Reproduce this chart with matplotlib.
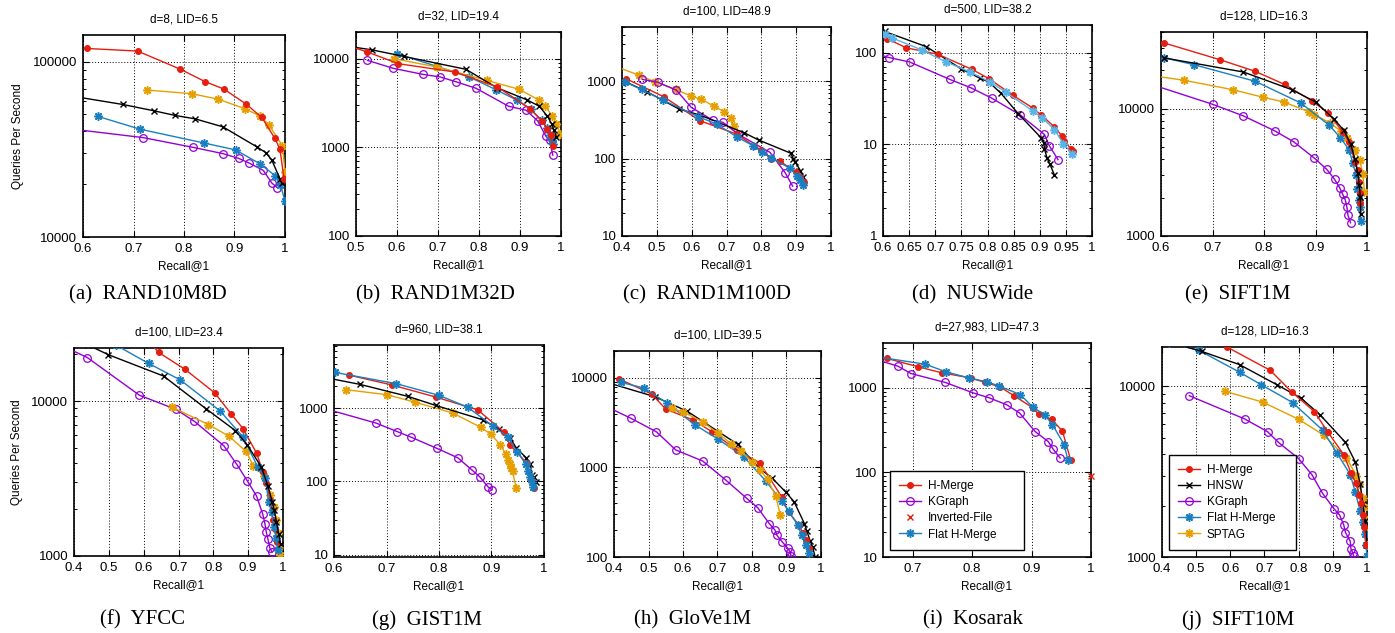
import matplotlib
matplotlib.use("Agg")
import matplotlib.pyplot as plt
from matplotlib.ticker import FixedLocator, FuncFormatter, NullFormatter
import numpy as np

# ---------------- data ----------------
# (a) RAND10M8D
a_hm_x = [0.607, 0.708, 0.792, 0.842, 0.879, 0.923, 0.954, 0.980, 0.990, 0.998]
a_hm_y = [119000, 115000, 90800, 76900, 69800, 57300, 48100, 36500, 31700, 21500]
a_hnsw_x = [0.58, 0.679, 0.740, 0.782, 0.822, 0.877, 0.944, 0.962, 0.974, 0.990, 0.995]
a_hnsw_y = [63500, 57000, 52500, 49400, 47200, 42500, 32700, 30300, 27400, 21500, 20200]
a_kg_x = [0.58, 0.719, 0.817, 0.877, 0.908, 0.928, 0.957, 0.974, 0.985]
a_kg_y = [41200, 36900, 32500, 29900, 28100, 26500, 24000, 20300, 19100]
a_flat_x = [0.630, 0.713, 0.839, 0.902, 0.951, 0.980, 0.991, 1.0]
a_flat_y = [48700, 41200, 34400, 31400, 26100, 22400, 19900, 16000]
a_sptag_x = [0.727, 0.815, 0.867, 0.921, 0.951, 0.969, 0.995, 1.0]
a_sptag_y = [68900, 65700, 61200, 53900, 48900, 43300, 33100, 23500]

# (b) RAND1M32D
b_hm_x = [0.48, 0.528, 0.603, 0.741, 0.845, 0.924, 0.954, 0.967, 0.975, 0.980]
b_hm_y = [14000, 11900, 8780, 7080, 4800, 2740, 1970, 1630, 1390, 1030]
b_hnsw_x = [0.48, 0.538, 0.617, 0.768, 0.843, 0.916, 0.947, 0.967, 0.977, 0.983, 0.989]
b_hnsw_y = [13800, 12600, 10600, 7590, 4720, 3450, 2910, 2240, 1850, 1560, 1310]
b_kg_x = [0.528, 0.591, 0.663, 0.705, 0.743, 0.793, 0.872, 0.915, 0.943, 0.963, 0.972, 0.980]
b_kg_y = [9570, 7780, 6660, 6220, 5510, 4630, 2910, 2620, 1990, 1340, 1200, 817]
b_flat_x = [0.599, 0.697, 0.776, 0.841, 0.893, 0.926, 0.953, 0.965, 0.972, 0.977, 0.980]
b_flat_y = [11400, 8200, 6220, 4480, 3400, 2690, 2020, 1670, 1370, 1200, 1090]
b_sptag_x = [0.593, 0.697, 0.819, 0.898, 0.947, 0.962, 0.979, 0.989, 0.998]
b_sptag_y = [10000, 8060, 5700, 4510, 3400, 2910, 2240, 1820, 1430]

# (c) RAND1M100D
c_hm_x = [0.412, 0.520, 0.624, 0.729, 0.779, 0.800, 0.827, 0.854, 0.899, 0.912, 0.923]
c_hm_y = [1072, 628, 308, 207, 146, 129, 98.6, 92, 67.6, 58, 50]
c_hnsw_x = [0.38, 0.472, 0.564, 0.624, 0.751, 0.793, 0.885, 0.892, 0.897, 0.912, 0.921]
c_hnsw_y = [1135, 728, 435, 364, 215, 173, 117, 98.6, 91, 70, 58]
c_kg_x = [0.458, 0.502, 0.556, 0.599, 0.660, 0.690, 0.733, 0.825, 0.868, 0.890]
c_kg_y = [1052, 970, 765, 457, 314, 293, 207, 120, 66, 44]
c_flat_x = [0.410, 0.456, 0.518, 0.619, 0.672, 0.729, 0.777, 0.801, 0.828, 0.883, 0.902, 0.912, 0.921]
c_flat_y = [970, 780, 568, 347, 279, 191, 146, 122, 102, 74.6, 60, 52.8, 45.5]
c_sptag_x = [0.38, 0.448, 0.494, 0.554, 0.597, 0.628, 0.664, 0.694, 0.713, 0.722]
c_sptag_y = [1560, 1195, 980, 780, 647, 580, 475, 402, 330, 262]

# (d) NUSWide
d_hm_x = [0.608, 0.644, 0.705, 0.770, 0.803, 0.848, 0.887, 0.903, 0.928, 0.942, 0.947, 0.959, 0.964]
d_hm_y = [142, 113, 95.9, 65.7, 51.9, 34.4, 24.8, 20.8, 15.5, 12.4, 11.0, 8.97, 8.38]
d_hnsw_x = [0.603, 0.683, 0.749, 0.786, 0.802, 0.826, 0.859, 0.903, 0.908, 0.909, 0.914, 0.919, 0.928]
d_hnsw_y = [170, 116, 66.8, 52.4, 48.1, 35.9, 21.5, 11.7, 10.3, 8.9, 7.1, 6.14, 4.65]
d_kg_x = [0.59, 0.612, 0.651, 0.728, 0.768, 0.808, 0.863, 0.909, 0.918, 0.935]
d_kg_y = [96, 88.2, 79, 51, 41.4, 31.9, 20.8, 12.8, 9.7, 6.8]
d_flat_x = [0.603, 0.618, 0.674, 0.721, 0.767, 0.805, 0.835, 0.887, 0.905, 0.928, 0.945, 0.962]
d_flat_y = [159, 144, 107, 79, 61.4, 47.7, 37.1, 23.0, 19.4, 14.5, 10.2, 7.9]

# (e) SIFT1M
e_hm_x = [0.605, 0.715, 0.782, 0.840, 0.893, 0.924, 0.953, 0.965, 0.977, 0.982, 0.985, 0.986, 0.987]
e_hm_y = [32900, 24200, 19700, 15500, 11500, 9300, 6560, 5480, 3820, 3290, 2660, 2160, 1820]
e_hnsw_x = [0.605, 0.760, 0.854, 0.900, 0.935, 0.955, 0.968, 0.977, 0.982, 0.985, 0.987, 0.988]
e_hnsw_y = [25100, 19400, 14100, 11300, 8350, 6770, 5320, 3990, 3100, 2510, 2030, 1490]
e_kg_x = [0.59, 0.701, 0.760, 0.821, 0.858, 0.898, 0.922, 0.937, 0.947, 0.953, 0.958, 0.961, 0.963, 0.968]
e_kg_y = [15100, 10800, 8770, 6690, 5480, 4080, 3330, 2790, 2390, 2120, 1910, 1680, 1460, 1270]
e_flat_x = [0.606, 0.665, 0.783, 0.871, 0.927, 0.948, 0.966, 0.972, 0.979, 0.981, 0.984, 0.986, 0.988]
e_flat_y = [25100, 22100, 16400, 11100, 7400, 5930, 4720, 3750, 3040, 2320, 1910, 1700, 1300]
e_sptag_x = [0.59, 0.645, 0.739, 0.798, 0.838, 0.888, 0.898, 0.928, 0.950, 0.961, 0.976, 0.986, 0.992, 0.995]
e_sptag_y = [18000, 16700, 14100, 12300, 11300, 9420, 8980, 7720, 6640, 5890, 4720, 3940, 3060, 2220]

# (f) YFCC
f_hm_x = [0.62, 0.643, 0.719, 0.804, 0.851, 0.885, 0.924, 0.942, 0.952, 0.964, 0.971, 0.978, 0.983]
f_hm_y = [23500, 20600, 16000, 11300, 8270, 6650, 4620, 3510, 2950, 2300, 1720, 1500, 1230]
f_hnsw_x = [0.44, 0.499, 0.657, 0.779, 0.863, 0.897, 0.937, 0.957, 0.969, 0.975, 0.981, 0.988, 0.993]
f_hnsw_y = [23000, 19900, 14500, 8920, 6450, 5230, 3780, 2830, 2240, 1980, 1660, 1380, 1200]
f_kg_x = [0.38, 0.438, 0.588, 0.693, 0.745, 0.830, 0.866, 0.897, 0.924, 0.942, 0.948, 0.952, 0.957, 0.962, 0.969]
f_kg_y = [22000, 19100, 10900, 8830, 7410, 5150, 3940, 3070, 2440, 1860, 1620, 1430, 1280, 1130, 1060]
f_flat_x = [0.52, 0.614, 0.705, 0.820, 0.885, 0.927, 0.949, 0.959, 0.967, 0.975, 0.981, 0.985]
f_flat_y = [23000, 17500, 13700, 8610, 5870, 3780, 3180, 2240, 1910, 1540, 1300, 1090]
f_sptag_x = [0.681, 0.786, 0.845, 0.894, 0.915, 0.946, 0.963, 0.973, 0.981, 0.986, 0.989, 0.991]
f_sptag_y = [9140, 7050, 5930, 4730, 3820, 3260, 2480, 2080, 1710, 1410, 1140, 1010]

# (g) GIST1M
g_hm_x = [0.629, 0.710, 0.794, 0.874, 0.923, 0.936, 0.967, 0.975, 0.980]
g_hm_y = [2830, 2080, 1420, 948, 475, 311, 179, 105, 81]
g_hnsw_x = [0.58, 0.649, 0.741, 0.794, 0.883, 0.914, 0.935, 0.947, 0.966, 0.974, 0.977, 0.980, 0.984]
g_hnsw_y = [2650, 2120, 1450, 1090, 697, 518, 397, 289, 210, 174, 124, 114, 97]
g_kg_x = [0.58, 0.680, 0.720, 0.746, 0.796, 0.836, 0.862, 0.878, 0.893, 0.901]
g_kg_y = [1000, 627, 481, 405, 283, 210, 145, 115, 85, 76.7]
g_flat_x = [0.602, 0.718, 0.800, 0.855, 0.902, 0.931, 0.949, 0.965, 0.970, 0.974, 0.977, 0.979]
g_flat_y = [3080, 2170, 1500, 1030, 576, 405, 254, 174, 140, 115, 98, 85]
g_sptag_x = [0.623, 0.701, 0.754, 0.826, 0.880, 0.899, 0.917, 0.927, 0.931, 0.935, 0.938, 0.940, 0.947]
g_sptag_y = [1790, 1530, 1210, 862, 546, 442, 315, 239, 199, 174, 153, 137, 81]

# (h) GloVe1M
h_hm_x = [0.415, 0.509, 0.550, 0.628, 0.683, 0.756, 0.822, 0.886, 0.906, 0.935, 0.947, 0.957, 0.966]
h_hm_y = [9750, 6620, 4490, 3410, 2520, 1560, 1130, 471, 317, 230, 186, 156, 126]
h_hnsw_x = [0.38, 0.518, 0.613, 0.758, 0.819, 0.859, 0.898, 0.922, 0.952, 0.959, 0.969, 0.976, 0.983]
h_hnsw_y = [8900, 6180, 4230, 1820, 995, 756, 531, 414, 236, 194, 150, 128, 100]
h_kg_x = [0.38, 0.450, 0.523, 0.579, 0.657, 0.724, 0.785, 0.817, 0.850, 0.867, 0.872, 0.888, 0.903, 0.911, 0.913]
h_kg_y = [4750, 3530, 2500, 1570, 1180, 724, 451, 354, 236, 199, 175, 147, 126, 114, 102]
h_flat_x = [0.419, 0.486, 0.554, 0.634, 0.702, 0.777, 0.840, 0.886, 0.906, 0.932, 0.944, 0.956, 0.964]
h_flat_y = [8940, 7730, 5240, 3000, 2070, 1310, 706, 421, 325, 230, 175, 137, 111]
h_sptag_x = [0.567, 0.599, 0.657, 0.702, 0.739, 0.767, 0.799, 0.823, 0.845, 0.869, 0.882]
h_sptag_y = [4570, 4190, 3240, 2400, 1850, 1530, 1160, 938, 736, 479, 293]

# (i) Kosarak
i_hm_x = [0.657, 0.709, 0.749, 0.798, 0.822, 0.847, 0.870, 0.902, 0.912, 0.934, 0.952, 0.966]
i_hm_y = [2230, 1780, 1510, 1310, 1160, 1030, 811, 583, 486, 424, 308, 139]
i_kg_x = [0.64, 0.675, 0.697, 0.755, 0.802, 0.828, 0.858, 0.880, 0.906, 0.928, 0.936, 0.948]
i_kg_y = [2150, 1810, 1480, 1160, 872, 767, 633, 504, 305, 232, 190, 148]
i_flat_x = [0.64, 0.721, 0.756, 0.795, 0.825, 0.846, 0.881, 0.902, 0.922, 0.935, 0.955, 0.961]
i_flat_y = [2330, 1910, 1550, 1310, 1180, 1050, 833, 594, 481, 369, 213, 140]
i_ivf_x = [1.0]
i_ivf_y = [89.6]

# (j) SIFT10M
j_hm_x = [0.590, 0.717, 0.780, 0.846, 0.886, 0.932, 0.953, 0.968, 0.978, 0.982, 0.987, 0.992, 0.997]
j_hm_y = [17000, 12400, 9260, 7110, 5370, 3980, 3110, 2700, 2320, 2060, 1760, 1500, 1180]
j_hnsw_x = [0.42, 0.517, 0.627, 0.737, 0.807, 0.863, 0.937, 0.966, 0.980, 0.988, 0.995, 1.0]
j_hnsw_y = [18200, 16000, 13400, 10200, 8530, 6800, 4690, 3600, 2680, 2040, 1630, 1180]
j_kg_x = [0.480, 0.642, 0.709, 0.741, 0.800, 0.839, 0.870, 0.904, 0.920, 0.932, 0.937, 0.951, 0.953, 0.958, 0.961]
j_kg_y = [8810, 6440, 5420, 4690, 3770, 3030, 2360, 1910, 1760, 1540, 1390, 1240, 1120, 1060, 1010]
j_flat_x = [0.42, 0.507, 0.627, 0.691, 0.782, 0.870, 0.912, 0.951, 0.966, 0.980, 0.987, 0.993, 0.997, 1.0]
j_flat_y = [18000, 16300, 12100, 10200, 8040, 5540, 4070, 3040, 2390, 1860, 1610, 1370, 1180, 1010]
j_sptag_x = [0.585, 0.695, 0.800, 0.873, 0.940, 0.969, 0.978, 0.987, 0.992, 0.995, 0.998, 1.0]
j_sptag_y = [9340, 8080, 6410, 5180, 3800, 3000, 2680, 2230, 1950, 1660, 1420, 1180]

titles = ["d=8, LID=6.5", "d=32, LID=19.4", "d=100, LID=48.9", "d=500, LID=38.2",
          "d=128, LID=16.3", "d=100, LID=23.4", "d=960, LID=38.1", "d=100, LID=39.5",
          "d=27,983, LID=47.3", "d=128, LID=16.3"]
captions = ["(a)  RAND10M8D", "(b)  RAND1M32D", "(c)  RAND1M100D", "(d)  NUSWide",
            "(e)  SIFT1M", "(f)  YFCC", "(g)  GIST1M", "(h)  GloVe1M",
            "(i)  Kosarak", "(j)  SIFT10M"]

# ---------------- styles ----------------
RED = "#e51e10"
PURPLE = "#9400d3"
BLUE = "#1a7fc0"
SKY = "#56b4e9"
ORANGE = "#e69f00"
STAR = (8, 2, 0)

styles = {
    "H-Merge": dict(color=RED, marker="o", ms=4.2, mfc=RED, mec=RED, mew=0.8),
    "HNSW": dict(color="black", marker="x", ms=5, mew=1.0),
    "KGraph": dict(color=PURPLE, marker="o", ms=5.5, mfc="none", mec=PURPLE, mew=0.9),
    "Flat H-Merge": dict(color=BLUE, marker=STAR, ms=6, mew=1.1),
    "SPTAG": dict(color=ORANGE, marker=STAR, ms=6, mew=1.1),
    "Inverted-File": dict(color=RED, marker="x", ms=5, mew=1.0, ls="none"),
}

W, H = 1395, 633
fig = plt.figure(figsize=(W / 100, H / 100), dpi=100)

# axes boxes in pixels: left, top, right, bottom
boxes = [(83, 35, 285, 237), (356, 32, 561, 236), (622, 27, 831, 236),
         (883, 25, 1092, 236), (1161, 32, 1367, 236),
         (74, 348, 283, 556), (334, 345, 544, 557), (614, 351, 821, 557),
         (883, 343, 1091, 557), (1162, 347, 1367, 557)]

xlims = [(0.6, 1), (0.5, 1), (0.4, 1), (0.6, 1), (0.6, 1),
         (0.4, 1), (0.6, 1), (0.4, 1), (0.65, 1), (0.4, 1)]
xticks = [np.arange(0.6, 1.001, 0.1), np.arange(0.5, 1.001, 0.1), np.arange(0.4, 1.001, 0.1),
          np.arange(0.6, 1.001, 0.05), np.arange(0.6, 1.001, 0.1),
          np.arange(0.4, 1.001, 0.1), np.arange(0.6, 1.001, 0.1), np.arange(0.4, 1.001, 0.1),
          np.arange(0.7, 1.001, 0.1), np.arange(0.4, 1.001, 0.1)]
ylims = [(1e4, 1.42e5), (100, 2e4), (10, 5000), (1, 200), (1000, 40000),
         (1000, 22000), (9.3, 7300), (100, 20000), (10, 3400), (1000, 17000)]

panels = [
    [("KGraph", a_kg_x, a_kg_y), ("Flat H-Merge", a_flat_x, a_flat_y), ("SPTAG", a_sptag_x, a_sptag_y),
     ("HNSW", a_hnsw_x, a_hnsw_y), ("H-Merge", a_hm_x, a_hm_y)],
    [("KGraph", b_kg_x, b_kg_y), ("Flat H-Merge", b_flat_x, b_flat_y), ("SPTAG", b_sptag_x, b_sptag_y),
     ("HNSW", b_hnsw_x, b_hnsw_y), ("H-Merge", b_hm_x, b_hm_y)],
    [("SPTAG", c_sptag_x, c_sptag_y), ("KGraph", c_kg_x, c_kg_y), ("HNSW", c_hnsw_x, c_hnsw_y),
     ("H-Merge", c_hm_x, c_hm_y), ("Flat H-Merge", c_flat_x, c_flat_y)],
    [("KGraph", d_kg_x, d_kg_y), ("HNSW", d_hnsw_x, d_hnsw_y), ("H-Merge", d_hm_x, d_hm_y),
     ("Flat H-Merge", d_flat_x, d_flat_y)],
    [("KGraph", e_kg_x, e_kg_y), ("SPTAG", e_sptag_x, e_sptag_y), ("Flat H-Merge", e_flat_x, e_flat_y),
     ("H-Merge", e_hm_x, e_hm_y), ("HNSW", e_hnsw_x, e_hnsw_y)],
    [("KGraph", f_kg_x, f_kg_y), ("SPTAG", f_sptag_x, f_sptag_y), ("H-Merge", f_hm_x, f_hm_y),
     ("Flat H-Merge", f_flat_x, f_flat_y), ("HNSW", f_hnsw_x, f_hnsw_y)],
    [("KGraph", g_kg_x, g_kg_y), ("SPTAG", g_sptag_x, g_sptag_y), ("HNSW", g_hnsw_x, g_hnsw_y),
     ("H-Merge", g_hm_x, g_hm_y), ("Flat H-Merge", g_flat_x, g_flat_y)],
    [("KGraph", h_kg_x, h_kg_y), ("HNSW", h_hnsw_x, h_hnsw_y), ("H-Merge", h_hm_x, h_hm_y),
     ("Flat H-Merge", h_flat_x, h_flat_y), ("SPTAG", h_sptag_x, h_sptag_y)],
    [("H-Merge", i_hm_x, i_hm_y), ("KGraph", i_kg_x, i_kg_y), ("Inverted-File", i_ivf_x, i_ivf_y),
     ("Flat H-Merge", i_flat_x, i_flat_y)],
    [("KGraph", j_kg_x, j_kg_y), ("SPTAG", j_sptag_x, j_sptag_y), ("Flat H-Merge", j_flat_x, j_flat_y),
     ("HNSW", j_hnsw_x, j_hnsw_y), ("H-Merge", j_hm_x, j_hm_y)],
]

legend_orders = {8: ["H-Merge", "KGraph", "Inverted-File", "Flat H-Merge"],
                 9: ["H-Merge", "HNSW", "KGraph", "Flat H-Merge", "SPTAG"]}
legend_widths = {8: 134, 9: 127}

caption_pos = [(148, 295), (435, 295), (707, 295), (973, 295), (1238, 295),
               (143, 620), (427, 620), (693, 620), (973, 620), (1238, 620)]

SANS = ["Liberation Sans", "DejaVu Sans"]
SERIF = ["Liberation Serif", "DejaVu Serif"]

for k in range(10):
    l, t, r, b = boxes[k]
    ax = fig.add_axes([l / W, 1 - b / H, (r - l) / W, (b - t) / H])
    ax.set_yscale("log")
    handles = {}
    for name, xs, ys in panels[k]:
        st = dict(styles[name])
        if k == 3 and name == "Flat H-Merge":
            st["color"] = SKY
        ls = st.pop("ls", "-")
        clip = name != "Inverted-File"
        h, = ax.plot(xs, ys, ls=ls, lw=1.0, clip_on=clip, zorder=3, **st)
        handles[name] = h
    ax.set_xlim(*xlims[k])
    ax.set_ylim(*ylims[k])
    ax.xaxis.set_major_locator(FixedLocator(xticks[k]))
    ax.xaxis.set_major_formatter(FuncFormatter(lambda v, p: f"{round(v, 2):g}"))
    lo, hi = ylims[k]
    decs = [10.0 ** e for e in range(int(np.floor(np.log10(lo))), int(np.ceil(np.log10(hi))) + 1)]
    majors = [d for d in decs if lo * 0.999 <= d <= hi * 1.001]
    minors = [d * m for d in decs for m in range(2, 10) if lo <= d * m <= hi]
    ax.yaxis.set_major_locator(FixedLocator(majors))
    ax.yaxis.set_minor_locator(FixedLocator(minors))
    ax.yaxis.set_major_formatter(FuncFormatter(lambda v, p: f"{int(round(v))}"))
    ax.yaxis.set_minor_formatter(NullFormatter())
    ax.tick_params(which="both", direction="in", top=True, right=True, labelsize=9.5, pad=4,
                   colors="black")
    ax.tick_params(which="major", length=4, width=0.8)
    ax.tick_params(which="minor", length=2.5, width=0.7)
    for lab in ax.get_xticklabels() + ax.get_yticklabels():
        lab.set_family(SANS)
    ax.grid(True, which="major", ls=(0, (1, 2)), color="black", lw=0.7, zorder=1)
    for s in ax.spines.values():
        s.set_linewidth(1.2)
    ax.set_title(titles[k], fontsize=8.5, pad=9, family=SANS)
    ax.set_xlabel("Recall@1", fontsize=8.5, family=SANS, labelpad=4)
    if k in legend_orders:
        order = legend_orders[k]
        aw, ah = r - l, b - t
        leg = ax.legend([handles[n] for n in order], order, loc="lower left",
                        bbox_to_anchor=(7 / aw, 7 / ah, legend_widths[k] / aw, 0.1),
                        mode="expand", borderaxespad=0,
                        fancybox=False, framealpha=1, edgecolor="black",
                        prop={"family": SANS, "size": 8.5}, handlelength=1.8,
                        labelspacing=0.35, handletextpad=0.6, borderpad=0.8)
        leg.get_frame().set_linewidth(1.0)
        leg.set_zorder(5)
    cx, cy = caption_pos[k]
    fig.text(cx / W, 1 - cy / H, captions[k], ha="center", va="center",
             fontsize=15, family=SERIF)

fig.text(18 / W, 1 - 136 / H, "Queries Per Second", rotation=90, ha="center", va="center",
         fontsize=8.5, family=SANS)
fig.text(17 / W, 1 - 452 / H, "Queries Per Second", rotation=90, ha="center", va="center",
         fontsize=8.5, family=SANS)

fig.savefig("out.png", dpi=100)
